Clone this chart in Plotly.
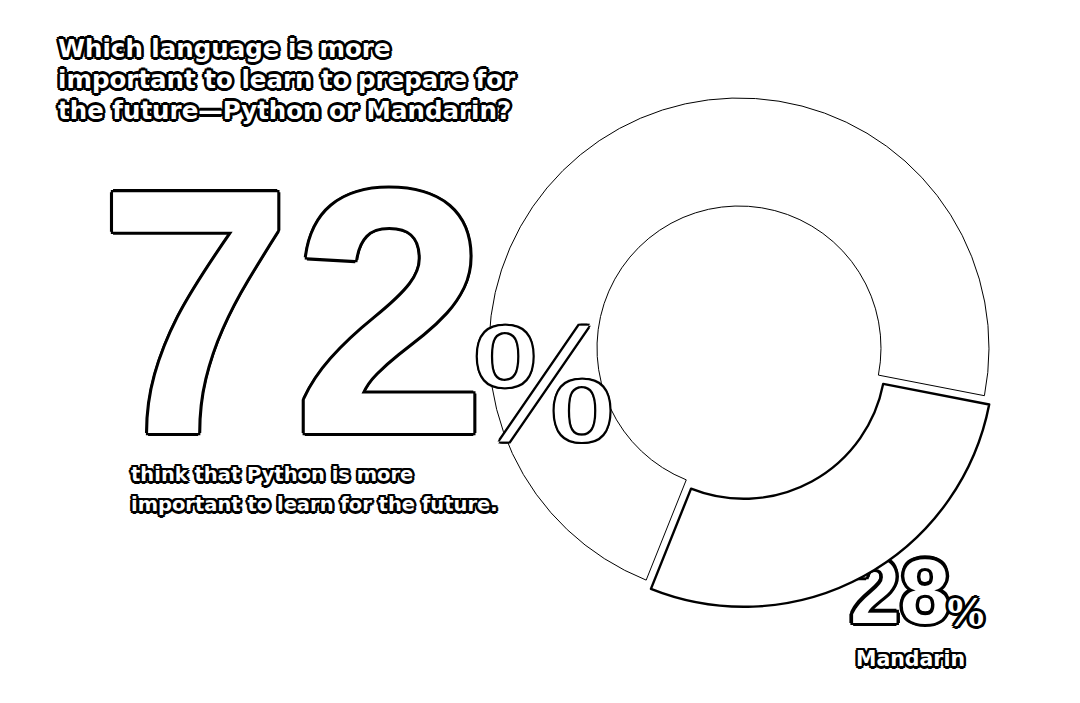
import plotly.graph_objects as go

# ---- data ----
labels = ["Mandarin", "Python"]
values = [28, 72]
title_lines = [
    "Which language is more",
    "important to learn to prepare for",
    "the future\u2014Python or Mandarin?",
]
subtitle_lines = [
    "think that Python is more",
    "important to learn for the future.",
]
python_pct = "72"
mandarin_pct = "28"
mandarin_label = "Mandarin"

W, H = 1080, 703


def outline(px, color="#000"):
    offs = []
    for dx, dy in [(-1, -1), (1, -1), (-1, 1), (1, 1), (0, -1.4), (0, 1.4), (-1.4, 0), (1.4, 0)]:
        offs.append(f"{dx*px:.1f}px {dy*px:.1f}px 0 {color}")
    return ", ".join(offs)


def px_x(x):
    return x / W


def px_y(y):
    return 1 - y / H


# donut geometry (pixels)
cx, cy, R = 731, 340, 250
pull = [0.04, 0]
rd = R * (1 + max(pull))

fig = go.Figure()

# "28" sits beneath the donut (the pulled slice covers part of it)
fig.add_trace(go.Scatter(
    x=[892], y=[592], mode="text", text=[f"<b>{mandarin_pct}</b>"],
    textposition="middle center",
    textfont=dict(family="Liberation Sans", size=90, color="white", shadow=outline(2.6)),
    hoverinfo="skip", showlegend=False,
))

fig.add_trace(
    go.Pie(
        labels=labels,
        values=values,
        sort=False,
        direction="clockwise",
        rotation=101,
        hole=0.568,
        pull=pull,
        textinfo="none",
        hoverinfo="label+percent",
        marker=dict(colors=["white", "white"], line=dict(color="black", width=[2.4, 1])),
        domain=dict(
            x=[(cx - rd) / W, (cx + rd) / W],
            y=[(H - cy - rd) / H, (H - cy + rd) / H],
        ),
        showlegend=False,
    )
)

FONT = "DejaVu Sans"
BIG = "Liberation Sans"
NARROW = "Liberation Sans Narrow"
annos = []


def add_text(text, x, y, font, xanchor="left"):
    annos.append(dict(
        text=text, x=px_x(x), y=px_y(y), xref="paper", yref="paper",
        xanchor=xanchor, yanchor="middle", showarrow=False, font=font,
    ))


# title
for i, line in enumerate(title_lines):
    add_text(f"<b>{line}</b>", 48, 40 + 31 * i,
             dict(family=FONT, size=24.5, color="white", shadow=outline(2.0)))

# subtitle
for i, line in enumerate(subtitle_lines):
    add_text(f"<b>{line}</b>", 121, 466 + 30 * i,
             dict(family=FONT, size=19.5, color="white", shadow=outline(1.8)))

# big 72%
add_text(f"<b>{python_pct}</b>", 88, 303,
         dict(family=BIG, size=350, color="white", shadow=outline(2.2)))
add_text("%", 535, 374,
         dict(family=NARROW, size=172, color="white", shadow=outline(1.6)), xanchor="center")

# 28% labels
add_text("<b>%</b>", 957, 603,
         dict(family=NARROW, size=43, color="white", shadow=outline(2.2)), xanchor="center")
add_text(f"<b>{mandarin_label}</b>", 902, 651,
         dict(family=FONT, size=20.5, color="white", shadow=outline(1.8)), xanchor="center")

fig.update_layout(
    width=W, height=H,
    margin=dict(l=0, r=0, t=0, b=0),
    paper_bgcolor="white", plot_bgcolor="white",
    xaxis=dict(range=[0, W], visible=False, fixedrange=True),
    yaxis=dict(range=[H, 0], visible=False, fixedrange=True),
    annotations=annos,
)

fig.write_html("out.html")
